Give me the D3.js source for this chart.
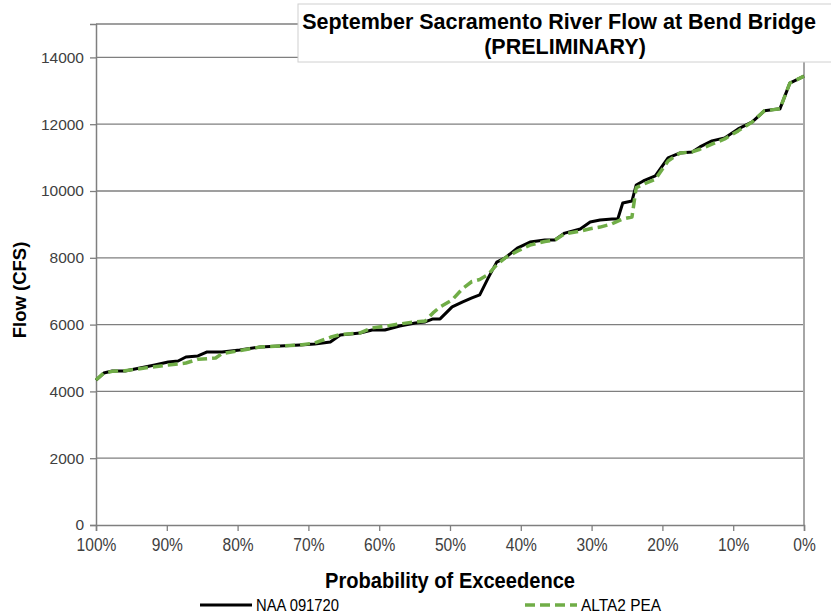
<!DOCTYPE html>
<html>
<head>
<meta charset="utf-8">
<script src="https://cdn.jsdelivr.net/npm/d3@7"></script>
<style>
  body { margin: 0; background: #fff; }
  svg { display: block; }
</style>
</head>
<body>
<div id="chart"></div>
<script>
// exceedance probability (%) of each point
const probs = [100, 98.9, 97.7, 95.9, 93.8, 91.7, 89.8, 88.4, 87.3, 85.6, 84.3, 83.1, 82.2, 79.7,
  76.8, 74.0, 71.2, 69.1, 66.9, 65.5, 62.7, 61.0, 59.2, 57.1, 54.9, 53.5, 52.4, 51.4, 49.7, 48.2,
  46.9, 45.8, 44.6, 43.4, 42.2, 40.5, 38.7, 36.6, 35.2, 33.8, 31.6, 30.2, 28.8, 27.1, 26.3, 25.6,
  24.3, 23.7, 22.7, 21.0, 19.2, 17.5, 15.8, 14.7, 13.0, 11.2, 9.3, 7.3, 5.6, 3.4, 2.0, 0];

// flows (cfs)
const naa = [4340, 4550, 4610, 4610, 4700, 4790, 4880, 4910, 5030, 5060, 5180, 5180, 5180, 5240,
  5330, 5360, 5390, 5420, 5480, 5690, 5750, 5840, 5840, 5960, 6050, 6080, 6170, 6170, 6530, 6680,
  6800, 6890, 7400, 7870, 8000, 8290, 8470, 8530, 8530, 8740, 8860, 9070, 9130, 9160, 9160, 9640,
  9700, 10180, 10300, 10450, 10990, 11140, 11170, 11320, 11500, 11590, 11860, 12070, 12400, 12460, 13230, 13440];

const alta2 = [4340, 4550, 4600, 4620, 4680, 4740, 4790, 4820, 4850, 4960, 4980, 5000, 5130, 5220,
  5330, 5360, 5390, 5450, 5620, 5700, 5750, 5900, 5950, 6020, 6080, 6110, 6350, 6530, 6740, 7080,
  7290, 7350, 7500, 7790, 8000, 8200, 8380, 8490, 8530, 8720, 8800, 8870, 8920, 9020, 9100, 9160,
  9220, 10100, 10200, 10350, 10900, 11140, 11170, 11250, 11400, 11560, 11800, 12070, 12400, 12460, 13230, 13440];

const xTicks = [100, 90, 80, 70, 60, 50, 40, 30, 20, 10, 0];
const yTicks = [0, 2000, 4000, 6000, 8000, 10000, 12000, 14000];

const W = 831, H = 616;
const plot = { left: 96, right: 804, top: 24, bottom: 525 };
const sans = "Liberation Sans, Arial, sans-serif";

const svg = d3.select("#chart").append("svg").attr("width", W).attr("height", H);

const x = d3.scaleLinear().domain([100, 0]).range([plot.left, plot.right]);
const y = d3.scaleLinear().domain([0, 15000]).range([plot.bottom, plot.top]);

// gridlines
svg.append("g")
  .selectAll("line").data(yTicks.filter(d => d > 0)).join("line")
  .attr("x1", plot.left).attr("x2", plot.right)
  .attr("y1", d => y(d)).attr("y2", d => y(d))
  .attr("stroke", "#7f7f7f").attr("stroke-width", 1.3);

// plot border top + right
svg.append("line").attr("x1", plot.left).attr("x2", plot.right)
  .attr("y1", plot.top).attr("y2", plot.top).attr("stroke", "#7f7f7f").attr("stroke-width", 1.3);
svg.append("line").attr("x1", plot.right).attr("x2", plot.right)
  .attr("y1", plot.top).attr("y2", plot.bottom).attr("stroke", "#a6a6a6").attr("stroke-width", 2);

// axes
const yAxis = svg.append("g").attr("transform", `translate(${plot.left},0)`)
  .call(d3.axisLeft(y).tickValues(yTicks).tickSize(6).tickPadding(6).tickFormat(d3.format("d")));
const xAxis = svg.append("g").attr("transform", `translate(0,${plot.bottom})`)
  .call(d3.axisBottom(x).tickValues(xTicks).tickSize(6).tickPadding(7).tickFormat(d => d + "%"));

[yAxis, xAxis].forEach(g => {
  g.select(".domain").attr("stroke", "#7f7f7f").attr("stroke-width", 1.5);
  g.selectAll(".tick line").attr("stroke", "#7f7f7f").attr("stroke-width", 1.3);
  g.selectAll("text").attr("fill", "#404040");
});
yAxis.selectAll("text").style("font-family", sans).style("font-size", "15.5px");
// narrow-looking tick labels: squeeze horizontally
xAxis.selectAll("text").style("font-family", sans).style("font-size", "19px")
  .attr("transform", "scale(0.82,1)");

// series
const series = [
  { name: "NAA 091720", values: naa, color: "#000000", dash: null, width: 3, textW: 83 },
  { name: "ALTA2 PEA", values: alta2, color: "#70ad47", dash: "10,5", width: 3.5, textW: 80 }
];

const line = d3.line().x((d, i) => x(probs[i])).y(d => y(d));

series.forEach(s => {
  svg.append("path").datum(s.values)
    .attr("d", line)
    .attr("fill", "none")
    .attr("stroke", s.color)
    .attr("stroke-width", s.width)
    .attr("stroke-linejoin", "round")
    .attr("stroke-dasharray", s.dash);
});

// title box
const tb = svg.append("g");
tb.append("rect").attr("x", 298).attr("y", 4).attr("width", 540).attr("height", 58)
  .attr("fill", "#fff").attr("stroke", "#d0d0d0").attr("stroke-width", 1);
tb.append("text").attr("x", 559).attr("y", 29).attr("text-anchor", "middle")
  .style("font-family", sans).style("font-weight", "bold")
  .style("font-size", "21.5px").attr("fill", "#000")
  .text("September Sacramento River Flow at Bend Bridge");
tb.append("text").attr("x", 565).attr("y", 54).attr("text-anchor", "middle")
  .style("font-family", sans).style("font-weight", "bold")
  .style("font-size", "21.5px").attr("fill", "#000")
  .text("(PRELIMINARY)");

// axis titles
svg.append("text").attr("x", 450).attr("y", 588).attr("text-anchor", "middle")
  .attr("textLength", 250).attr("lengthAdjust", "spacingAndGlyphs")
  .style("font-family", sans).style("font-weight", "bold")
  .style("font-size", "22px").attr("fill", "#000")
  .text("Probability of Exceedence");
svg.append("text").attr("transform", "translate(26,290) rotate(-90)").attr("text-anchor", "middle")
  .style("font-family", sans).style("font-weight", "bold")
  .style("font-size", "18.5px").attr("fill", "#000")
  .text("Flow (CFS)");

// legend
const legendX = [200, 525];
series.forEach((s, i) => {
  const g = svg.append("g").attr("transform", `translate(${legendX[i]},605)`);
  g.append("line").attr("x1", 0).attr("x2", 52).attr("y1", 0).attr("y2", 0)
    .attr("stroke", s.color).attr("stroke-width", s.width).attr("stroke-dasharray", s.dash);
  g.append("text").attr("x", 56).attr("y", 6)
    .attr("textLength", s.textW).attr("lengthAdjust", "spacingAndGlyphs")
    .style("font-family", sans)
    .style("font-size", "17px").attr("fill", "#000").text(s.name);
});
</script>
</body>
</html>
